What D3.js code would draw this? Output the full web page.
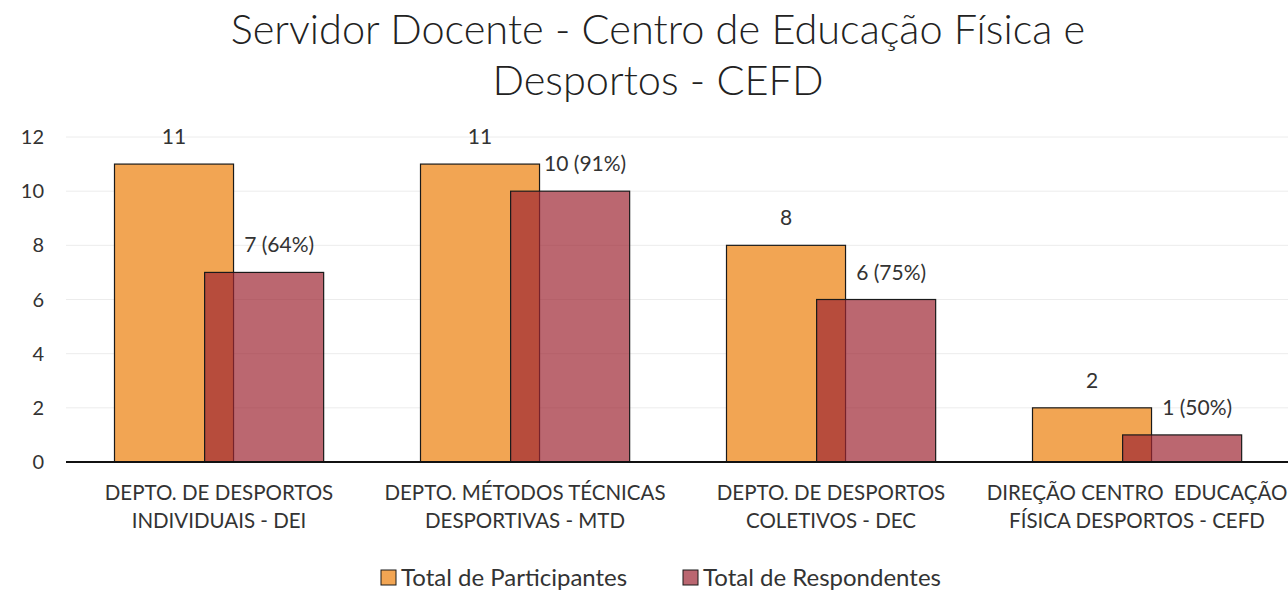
<!DOCTYPE html>
<html>
<head>
<meta charset="utf-8">
<script src="https://cdn.jsdelivr.net/npm/d3@7"></script>
<style>
  body { margin: 0; background: #fff; }
  svg { display: block; font-family: Lato, "Open Sans", sans-serif; }
</style>
</head>
<body>
<div id="chart"></div>
<script>
const categories = [
    ["DEPTO. DE DESPORTOS", "INDIVIDUAIS - DEI"],
    ["DEPTO. MÉTODOS TÉCNICAS", "DESPORTIVAS - MTD"],
    ["DEPTO. DE DESPORTOS", "COLETIVOS - DEC"],
    ["DIREÇÃO CENTRO  EDUCAÇÃO", "FÍSICA DESPORTOS - CEFD"]
];
const participantes = [11, 11, 8, 2];
const respondentes = [7, 10, 6, 1];
const yTicks = [0, 2, 4, 6, 8, 10, 12];
const seriesNames = ["Total de Participantes", "Total de Respondentes"];

const width = 1288, height = 590;
const plot = { left: 66, right: 1290, top: 137, bottom: 462 };

const svg = d3.select('#chart')
    .append('svg')
    .attr('width', width)
    .attr('height', height);

const x = d3.scaleBand()
    .domain(d3.range(categories.length))
    .range([plot.left, plot.right]);

const y = d3.scaleLinear()
    .domain([0, 12])
    .range([plot.bottom, plot.top]);

const bw = x.bandwidth();
const barW = bw * 0.389;
const orangeOff = -bw * 0.3415;
const redOff = -bw * 0.047;

// title
svg.append('text')
    .attr('x', 658).attr('y', 44)
    .attr('text-anchor', 'middle')
    .style('font-size', '41.5px')
    .style('font-weight', 300)
    .attr('fill', '#222')
    .text('Servidor Docente - Centro de Educação Física e');
svg.append('text')
    .attr('x', 658).attr('y', 95)
    .attr('text-anchor', 'middle')
    .style('font-size', '41.5px')
    .style('font-weight', 300)
    .attr('fill', '#222')
    .text('Desportos - CEFD');

// gridlines
svg.selectAll('.grid')
    .data(yTicks.filter(d => d > 0))
    .enter().append('line')
    .attr('x1', plot.left).attr('x2', width)
    .attr('y1', d => y(d)).attr('y2', d => y(d))
    .attr('stroke', '#ececec')
    .attr('stroke-width', 1);

// y tick labels
svg.selectAll('.ytick')
    .data(yTicks)
    .enter().append('text')
    .attr('x', 44)
    .attr('y', d => y(d) + 7)
    .attr('text-anchor', 'end')
    .style('font-size', '20px')
    .attr('fill', '#333')
    .text(d => d);

const center = i => x(i) + bw / 2;

// participantes bars
svg.selectAll('.bar-p')
    .data(participantes)
    .enter().append('rect')
    .attr('x', (d, i) => center(i) + orangeOff)
    .attr('y', d => y(d))
    .attr('width', barW)
    .attr('height', d => y(0) - y(d))
    .attr('fill', '#F2A553')
    .attr('stroke', '#1a1a1a')
    .attr('stroke-width', 1.2);

// respondentes bars (semi-transparent over orange)
svg.selectAll('.bar-r')
    .data(respondentes)
    .enter().append('rect')
    .attr('x', (d, i) => center(i) + redOff)
    .attr('y', d => y(d))
    .attr('width', barW)
    .attr('height', d => y(0) - y(d))
    .attr('fill', '#9E2633')
    .attr('fill-opacity', 0.7)
    .attr('stroke', '#1a1a1a')
    .attr('stroke-width', 1.2);

// value labels
svg.selectAll('.lab-p')
    .data(participantes)
    .enter().append('text')
    .attr('x', (d, i) => center(i) + orangeOff + barW / 2)
    .attr('y', d => y(d) - 20)
    .attr('text-anchor', 'middle')
    .style('font-size', '21px')
    .attr('fill', '#333')
    .text(d => d);

svg.selectAll('.lab-r')
    .data(respondentes)
    .enter().append('text')
    .attr('x', (d, i) => center(i) + redOff + barW / 2 + 15)
    .attr('y', d => y(d) - 20)
    .attr('text-anchor', 'middle')
    .style('font-size', '21px')
    .attr('fill', '#333')
    .text((d, i) => `${d} (${Math.round(d / participantes[i] * 100)}%)`);

// x axis line
svg.append('line')
    .attr('x1', plot.left).attr('x2', width)
    .attr('y1', y(0)).attr('y2', y(0))
    .attr('stroke', '#111')
    .attr('stroke-width', 2);

// category labels
categories.forEach((lines, i) => {
    lines.forEach((t, j) => {
        svg.append('text')
            .attr('x', center(i))
            .attr('y', 500 + j * 28)
            .attr('text-anchor', 'middle')
            .style('font-size', '20.5px')
            .style('white-space', 'pre')
            .attr('fill', '#333')
            .text(t);
    });
});

// legend
const legendColors = ['#F2A553', '#BA6670'];
const legendX = [381, 683];
seriesNames.forEach((name, i) => {
    svg.append('rect')
        .attr('x', legendX[i]).attr('y', 570)
        .attr('width', 15).attr('height', 15)
        .attr('fill', legendColors[i])
        .attr('stroke', '#1a1a1a')
        .attr('stroke-width', 1);
    svg.append('text')
        .attr('x', legendX[i] + 20).attr('y', 586)
        .style('font-size', '24px')
        .attr('fill', '#333')
        .text(name);
});
</script>
</body>
</html>
